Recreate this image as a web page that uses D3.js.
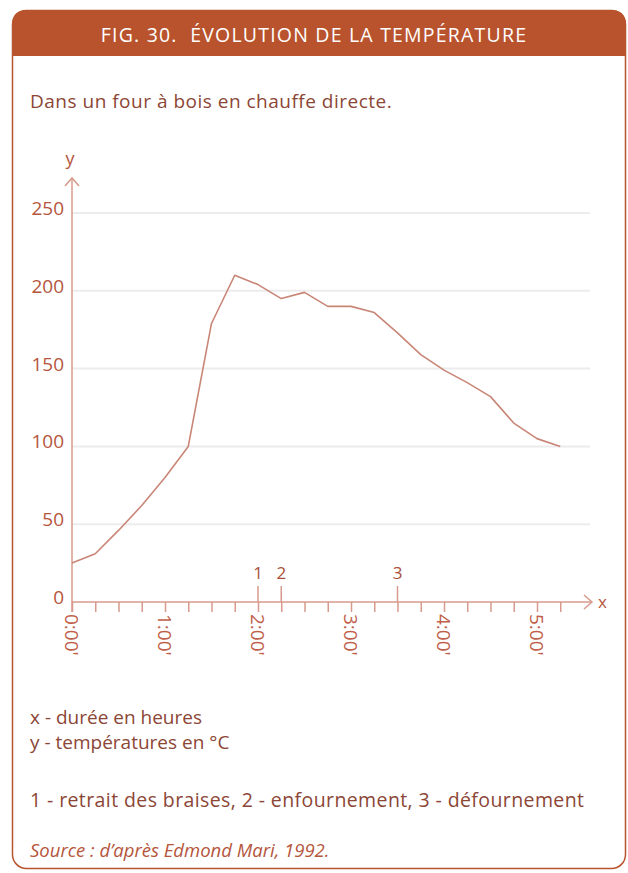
<!DOCTYPE html>
<html lang="fr">
<head>
<meta charset="UTF-8">
<title>Fig. 30 - Evolution de la température</title>
<script src="https://d3js.org/d3.v7.min.js"></script>
<style>
  body { margin: 0; background: #fff; }
  text { font-family: "Open Sans", "Noto Sans", sans-serif; }
</style>
</head>
<body>
<script>
// data: time in hours, temperature in °C
const hours = [0, 0.25, 0.5, 0.75, 1, 1.25, 1.5, 1.75, 2, 2.25, 2.5, 2.75, 3, 3.25, 3.5, 3.75, 4, 4.25, 4.5, 4.75, 5, 5.25];
const temps = [25, 31, 46, 62, 80, 100, 179, 210, 204, 195, 199, 190, 190, 186, 173, 159, 149, 141, 132, 115, 105, 100];
const yTicks = [0, 50, 100, 150, 200, 250];
const hourLabels = [0, 1, 2, 3, 4, 5];
const markers = [{h: 2, label: "1"}, {h: 2.25, label: "2"}, {h: 3.5, label: "3"}];
const notes = ["x - durée en heures", "y - températures en °C"];
const eventNote = "1 - retrait des braises, 2 - enfournement, 3 - défournement";

const W = 628, H = 873;
const brown = "#b9532d", txt = "#8c4636", axisCol = "#d79a8c", lineCol = "#c98677", tickTxt = "#b5553c";

const svg = d3.select("body").append("svg").attr("width", W).attr("height", H);

// frame with rounded corners + header band
svg.append("rect").attr("x", 12.5).attr("y", 10.5).attr("width", 613).attr("height", 858)
  .attr("rx", 14).attr("fill", "#fff").attr("stroke", brown).attr("stroke-width", 1.5);
svg.append("path")
  .attr("d", "M12,56 V25 Q12,10 27,10 H611 Q626,10 626,25 V56 Z")
  .attr("fill", brown);
svg.append("text").attr("x", 314).attr("y", 42).attr("text-anchor", "middle")
  .attr("fill", "#fff").attr("font-size", 19.5).attr("letter-spacing", 1.2)
  .attr("xml:space", "preserve")
  .text("FIG. 30.  ÉVOLUTION DE LA TEMPÉRATURE");

svg.append("text").attr("x", 30).attr("y", 108).attr("fill", txt).attr("font-size", 19)
  .attr("letter-spacing", 0.5).text("Dans un four à bois en chauffe directe.");

// scales
const x = d3.scaleLinear().domain([0, 1]).range([72, 165]);
const y = d3.scaleLinear().domain([0, 250]).range([602, 213]);

// grid
svg.append("g").selectAll("line").data(yTicks.filter(d => d > 0)).join("line")
  .attr("x1", x(0)).attr("x2", 590).attr("y1", d => y(d)).attr("y2", d => y(d))
  .attr("stroke", "#ececec").attr("stroke-width", 2);

// y tick labels
svg.append("g").selectAll("text").data(yTicks).join("text")
  .attr("x", 64).attr("y", d => y(d) + 2).attr("text-anchor", "end")
  .attr("fill", tickTxt).attr("font-size", 19).text(d => d);

// x axis with ticks every 15 min
const xAxis = d3.axisBottom(x).tickValues(d3.range(0, 5.26, 0.25)).tickSize(10).tickFormat("");
const gx = svg.append("g").attr("transform", `translate(0,${y(0)})`).call(xAxis);
gx.select(".domain").remove();
gx.selectAll("line").attr("stroke", axisCol).attr("stroke-width", 1.5);
svg.append("line").attr("x1", x(0)).attr("x2", 592).attr("y1", y(0)).attr("y2", y(0))
  .attr("stroke", axisCol).attr("stroke-width", 1.5);
svg.append("path").attr("d", `M584,${y(0) - 7} L592,${y(0)} L584,${y(0) + 7}`)
  .attr("fill", "none").attr("stroke", axisCol).attr("stroke-width", 1.5);
svg.append("text").attr("x", 598).attr("y", y(0) + 6).attr("fill", tickTxt).attr("font-size", 17).text("x");

// y axis
svg.append("line").attr("x1", x(0)).attr("x2", x(0)).attr("y1", y(0) + 10).attr("y2", 178)
  .attr("stroke", axisCol).attr("stroke-width", 1.5);
svg.append("path").attr("d", `M${x(0) - 7},186 L${x(0)},178 L${x(0) + 7},186`)
  .attr("fill", "none").attr("stroke", axisCol).attr("stroke-width", 1.5);
svg.append("text").attr("x", x(0) - 2).attr("y", 165).attr("text-anchor", "middle")
  .attr("fill", tickTxt).attr("font-size", 18).text("y");

// rotated hour labels
svg.append("g").selectAll("text").data(hourLabels).join("text")
  .attr("transform", d => `translate(${x(d) - 7},${y(0) + 12}) rotate(90)`)
  .attr("fill", "#c0604a").attr("font-size", 19).text(d => d + ":00'");

// event markers
const mk = svg.append("g").selectAll("g").data(markers).join("g")
  .attr("transform", d => `translate(${x(d.h)},0)`);
mk.append("line").attr("y1", y(0)).attr("y2", y(0) - 16).attr("stroke", axisCol).attr("stroke-width", 1.5);
mk.append("text").attr("y", y(0) - 23).attr("text-anchor", "middle")
  .attr("fill", "#a85038").attr("font-size", 17).text(d => d.label);

// temperature curve
const line = d3.line().x((d, i) => x(hours[i])).y(d => y(d));
svg.append("path").datum(temps).attr("d", line)
  .attr("fill", "none").attr("stroke", lineCol).attr("stroke-width", 1.6).attr("stroke-linejoin", "round");

// notes
svg.append("g").selectAll("text").data(notes).join("text")
  .attr("x", 30).attr("y", (d, i) => 724 + i * 25)
  .attr("fill", txt).attr("font-size", 19).text(d => d);
svg.append("text").attr("x", 30).attr("y", 807).attr("fill", txt).attr("font-size", 19.5)
  .attr("letter-spacing", 0.4).text(eventNote);
svg.append("text").attr("x", 30).attr("y", 857).attr("fill", tickTxt).attr("font-size", 18.5)
  .attr("font-style", "italic").text("Source : d’après Edmond Mari, 1992.");
</script>
</body>
</html>
